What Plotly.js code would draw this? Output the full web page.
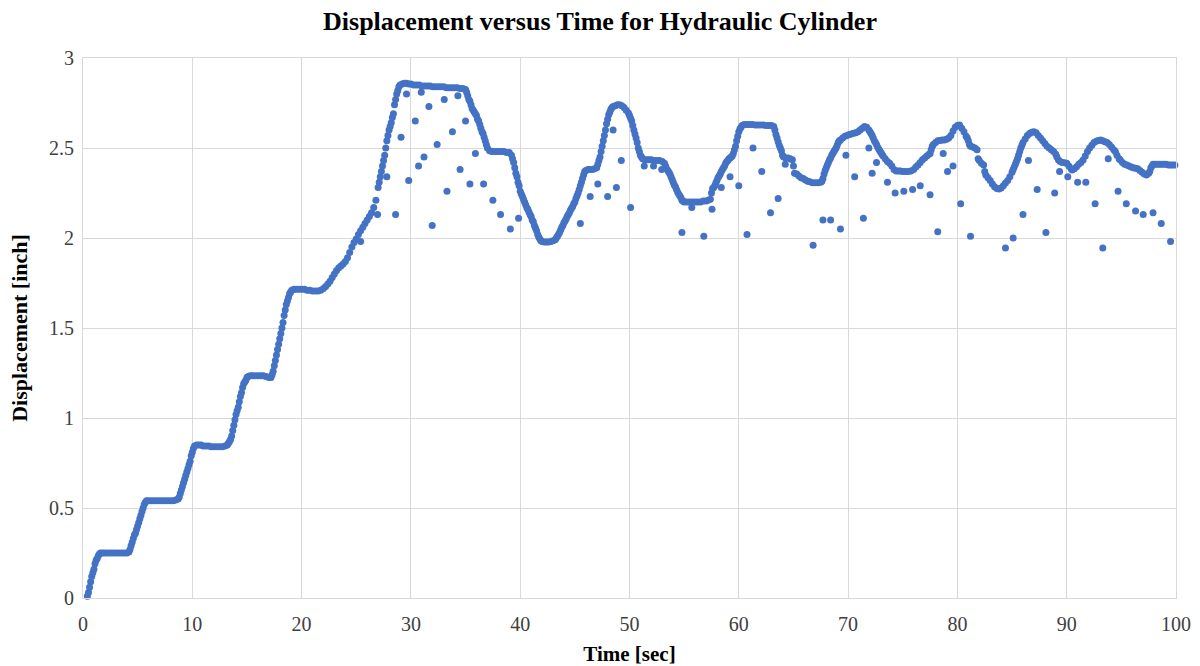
<!DOCTYPE html>
<html>
<head>
<meta charset="utf-8">
<script src="https://cdn.plot.ly/plotly-3.0.1.min.js"></script>
<style>html,body{margin:0;padding:0;background:#fff;}#chart{width:1200px;height:666px;}</style>
</head>
<body>
<div id="chart"></div>
<script>
// Main (dense) displacement trace
const mainTime = [
0.4,0.5,0.6,0.7,0.8,0.9,1.0,1.1,1.2,1.3,1.4,1.5,1.6,
1.8,2.0,2.25,2.5,2.75,3.0,3.25,3.5,3.75,4.0,4.2,
4.3,4.4,4.5,4.6,4.7,4.8,4.9,5.0,5.1,5.2,5.3,5.4,5.5,5.6,5.7,5.8,
6.0,6.25,6.5,6.75,7.0,7.25,7.5,7.75,8.0,8.25,8.5,8.7,
8.8,8.9,9.0,9.1,9.2,9.3,9.4,9.5,9.6,9.7,9.8,9.9,10.0,10.1,10.2,
10.4,10.6,10.8,11.0,11.25,11.5,11.75,12.0,12.25,12.5,12.75,13.0,13.2,
13.3,13.4,13.5,13.6,13.7,13.8,13.9,14.0,14.1,14.2,14.3,14.4,14.5,14.6,14.7,14.8,14.9,15.0,15.1,
15.3,15.5,15.75,16.0,16.25,16.5,16.75,17.0,17.2,
17.3,17.4,17.5,17.6,17.7,17.8,17.9,18.0,18.1,18.2,18.3,18.4,18.5,18.6,18.7,18.8,18.9,19.0,19.1,
19.3,19.5,19.75,20.0,20.25,20.5,20.75,21.0,21.25,21.5,21.75,22.0,
22.2,22.4,22.6,22.8,23.0,23.2,23.4,23.6,23.8,24.0,24.2,24.4,24.6,24.8,25.0,25.2,25.4,25.6,25.8,26.0,26.2,26.4,26.6,26.8,
27.0,27.1,27.2,27.3,27.4,27.5,27.6,27.7,27.8,27.9,28.0,28.1,28.2,28.3,28.4,28.5,28.6,28.7,28.8,28.9,29.0,29.2,
29.4,29.6,29.8,30.0,30.25,30.5,30.75,31.0,31.25,31.5,31.75,32.0,32.25,32.5,32.75,33.0,33.25,33.5,33.75,34.0,34.25,34.5,34.75,35.0,
35.1,35.2,35.3,35.4,35.5,35.6,35.7,35.8,35.9,36.0,36.1,36.2,36.3,36.4,36.5,36.6,36.7,36.8,36.9,37.0,37.2,
37.4,37.6,37.8,38.0,38.25,38.5,38.75,39.0,39.2,
39.3,39.4,39.5,39.6,39.7,39.8,39.9,40.0,40.1,40.2,40.3,40.4,40.5,40.6,40.7,40.8,40.9,41.0,41.1,41.2,41.3,41.4,41.5,41.6,41.7,41.8,41.9,
42.0,42.2,42.4,42.6,42.8,43.0,43.2,
43.3,43.4,43.5,43.6,43.7,43.8,43.9,44.0,44.1,44.2,44.3,44.4,44.5,44.6,44.7,44.8,44.9,45.0,45.1,45.2,45.3,45.4,45.5,45.6,45.7,45.8,45.9,46.0,
46.2,46.4,46.6,46.8,47.0,
47.1,47.2,47.3,47.4,47.5,47.6,47.7,47.8,47.9,48.0,48.1,48.2,48.3,48.4,48.5,48.7,48.9,49.1,49.3,49.5,49.7,49.9,50.0,50.1,50.2,50.3,50.4,50.5,50.6,50.7,50.8,50.9,51.0,51.1,51.2,
51.4,51.6,51.8,52.0,52.25,52.5,52.75,53.0,53.2,
53.3,53.4,53.5,53.6,53.7,53.8,53.9,54.0,54.1,54.2,54.3,54.4,54.5,54.6,54.7,54.8,54.9,
55.0,55.25,55.5,55.75,56.0,56.25,56.5,56.75,57.0,57.2,57.4,
57.5,57.6,57.7,57.8,57.9,58.0,58.1,58.2,58.3,58.4,58.5,58.6,58.7,58.8,58.9,59.0,59.1,59.2,59.3,59.4,59.5,59.6,59.7,59.8,59.9,60.0,60.1,60.2,60.3,
60.5,60.75,61.0,61.25,61.5,61.75,62.0,62.25,62.5,62.75,63.0,63.2,
63.3,63.4,63.5,63.6,63.7,63.8,63.9,64.0,64.1,
64.3,64.5,64.7,64.9,65.0,65.1,
65.3,65.5,65.7,65.9,66.1,66.3,66.5,
66.75,67.0,67.25,67.5,67.6,
67.7,67.8,67.9,68.0,68.1,68.2,68.3,68.4,68.5,68.6,68.7,68.8,68.9,69.0,69.1,69.2,69.3,69.5,69.7,69.9,70.1,70.3,70.5,70.7,70.9,71.1,71.3,71.5,71.7,71.9,72.0,72.1,72.2,72.3,72.4,72.5,72.6,72.7,72.8,72.9,73.0,73.1,73.2,73.4,73.6,73.8,74.0,74.2,
74.4,74.6,74.8,75.0,75.25,75.5,75.75,76.0,76.2,
76.4,76.6,76.8,77.0,77.2,77.4,77.5,77.6,77.7,77.8,78.0,78.2,78.4,78.6,78.8,79.0,79.2,79.4,79.6,79.8,80.0,80.2,80.4,80.6,80.8,80.9,81.0,81.1,81.2,81.4,81.6,81.8,81.9,82.0,82.2,82.4,82.5,82.6,82.8,83.0,83.2,83.4,83.6,83.8,84.0,84.2,84.4,84.6,84.8,85.0,85.1,85.2,85.3,85.4,85.5,85.6,85.7,85.8,85.9,86.0,86.2,86.4,86.6,86.8,87.0,87.2,87.4,87.6,87.8,88.0,88.2,88.4,88.6,88.8,89.0,89.1,89.25,89.4,89.6,89.8,90.0,90.2,90.4,90.5,90.7,90.9,91.1,91.3,91.5,91.7,91.9,92.1,92.3,92.5,92.7,92.9,93.1,93.3,93.5,93.7,93.9,94.1,94.3,94.45,94.6,94.8,94.9,95.1,95.3,95.5,95.7,95.9,96.1,96.3,96.5,96.7,96.9,97.1,97.3,97.5,97.6,97.7,97.8,97.9,98.1,98.3,98.5,98.7,98.9,99.1,99.3,99.5,99.7,99.9
];
const mainDisp = [
0.01,0.03,0.06,0.09,0.12,0.14,0.16,0.19,0.21,0.22,0.235,0.245,0.25,
0.25,0.25,0.25,0.25,0.25,0.25,0.25,0.25,0.25,0.25,0.255,
0.27,0.29,0.31,0.33,0.35,0.36,0.38,0.40,0.42,0.44,0.46,0.48,0.50,0.52,0.53,0.54,
0.54,0.54,0.54,0.54,0.54,0.54,0.54,0.54,0.54,0.54,0.545,0.55,
0.56,0.58,0.60,0.62,0.64,0.66,0.68,0.70,0.72,0.74,0.76,0.79,0.81,0.83,0.845,
0.85,0.85,0.85,0.845,0.845,0.845,0.84,0.84,0.84,0.84,0.84,0.845,0.85,
0.86,0.87,0.88,0.90,0.93,0.96,0.99,1.02,1.04,1.06,1.09,1.12,1.14,1.17,1.19,1.20,1.21,1.225,1.23,
1.235,1.235,1.235,1.235,1.235,1.235,1.23,1.225,1.225,
1.24,1.26,1.29,1.32,1.35,1.38,1.41,1.44,1.47,1.50,1.53,1.57,1.60,1.63,1.65,1.67,1.69,1.70,1.71,
1.715,1.715,1.715,1.715,1.715,1.71,1.71,1.705,1.705,1.705,1.71,1.72,
1.73,1.745,1.76,1.78,1.80,1.82,1.835,1.845,1.855,1.87,1.89,1.92,1.95,1.975,1.995,2.02,2.04,2.06,2.08,2.10,2.12,2.14,2.17,2.21,
2.28,2.31,2.34,2.37,2.40,2.43,2.46,2.50,2.54,2.57,2.60,2.62,2.64,2.67,2.69,2.74,2.77,2.80,2.82,2.84,2.85,2.855,
2.86,2.86,2.855,2.855,2.85,2.85,2.85,2.845,2.845,2.845,2.845,2.84,2.84,2.84,2.84,2.84,2.835,2.835,2.835,2.835,2.835,2.83,2.83,2.825,
2.81,2.79,2.77,2.76,2.74,2.72,2.71,2.70,2.69,2.68,2.66,2.65,2.63,2.61,2.59,2.58,2.56,2.54,2.52,2.50,2.485,
2.48,2.48,2.48,2.48,2.48,2.48,2.475,2.475,2.46,
2.44,2.42,2.39,2.36,2.34,2.31,2.29,2.26,2.245,2.23,2.215,2.20,2.185,2.17,2.16,2.145,2.13,2.12,2.10,2.09,2.07,2.055,2.04,2.02,2.005,1.995,1.985,
1.98,1.978,1.978,1.978,1.98,1.985,1.99,
2.00,2.01,2.02,2.03,2.045,2.06,2.07,2.085,2.095,2.105,2.12,2.13,2.14,2.155,2.165,2.175,2.19,2.20,2.22,2.235,2.25,2.27,2.29,2.31,2.33,2.35,2.37,2.375,
2.38,2.38,2.38,2.385,2.39,
2.41,2.43,2.45,2.48,2.51,2.54,2.57,2.60,2.635,2.66,2.685,2.70,2.715,2.725,2.73,2.735,2.74,2.74,2.735,2.725,2.71,2.695,2.68,2.665,2.65,2.625,2.60,2.578,2.555,2.53,2.50,2.48,2.46,2.45,2.44,
2.435,2.435,2.435,2.435,2.43,2.43,2.43,2.425,2.415,
2.40,2.385,2.375,2.365,2.355,2.34,2.325,2.31,2.295,2.285,2.27,2.255,2.245,2.235,2.225,2.21,2.205,
2.20,2.20,2.20,2.20,2.20,2.20,2.20,2.205,2.205,2.21,2.215,
2.25,2.275,2.28,2.29,2.305,2.32,2.335,2.345,2.355,2.37,2.38,2.39,2.40,2.415,2.425,2.43,2.44,2.445,2.45,2.455,2.47,2.49,2.51,2.54,2.565,2.59,2.605,2.615,2.625,
2.63,2.63,2.63,2.63,2.628,2.628,2.628,2.628,2.625,2.625,2.625,2.62,
2.60,2.575,2.555,2.535,2.515,2.50,2.485,2.46,2.45,
2.445,2.445,2.44,2.435,2.40,2.36,
2.355,2.345,2.335,2.33,2.322,2.315,2.312,
2.307,2.307,2.307,2.31,2.315,
2.33,2.355,2.375,2.39,2.405,2.42,2.435,2.445,2.46,2.47,2.48,2.49,2.50,2.515,2.53,2.54,2.545,2.555,2.565,2.57,2.575,2.578,2.582,2.585,2.59,2.60,2.61,2.62,2.615,2.60,2.59,2.58,2.57,2.555,2.54,2.53,2.52,2.505,2.495,2.485,2.475,2.465,2.455,2.44,2.425,2.415,2.40,2.38,
2.372,2.372,2.372,2.37,2.37,2.37,2.372,2.38,2.395,
2.405,2.42,2.435,2.445,2.455,2.465,2.47,2.49,2.51,2.52,2.53,2.54,2.542,2.544,2.545,2.548,2.555,2.57,2.595,2.615,2.625,2.628,2.61,2.59,2.565,2.555,2.54,2.52,2.51,2.505,2.50,2.49,2.44,2.43,2.415,2.405,2.37,2.35,2.335,2.32,2.30,2.285,2.275,2.272,2.278,2.29,2.305,2.32,2.34,2.365,2.38,2.395,2.41,2.425,2.44,2.46,2.48,2.50,2.515,2.53,2.55,2.57,2.58,2.588,2.59,2.585,2.57,2.555,2.54,2.525,2.51,2.50,2.49,2.48,2.465,2.45,2.433,2.425,2.42,2.418,2.415,2.40,2.385,2.378,2.385,2.396,2.41,2.42,2.433,2.455,2.48,2.50,2.515,2.53,2.538,2.542,2.544,2.54,2.535,2.53,2.52,2.505,2.49,2.48,2.46,2.44,2.433,2.42,2.41,2.405,2.40,2.395,2.39,2.388,2.385,2.375,2.365,2.355,2.35,2.36,2.37,2.39,2.40,2.41,2.41,2.41,2.41,2.41,2.41,2.41,2.405,2.405,2.405,2.405
];
// Scattered samples below the main trace
const strayTime = [25.4,26.95,27.8,28.6,29.1,29.6,29.8,30.4,30.7,30.95,31.2,31.65,31.95,32.4,33.05,33.3,33.8,34.3,34.5,35.0,35.4,35.9,36.65,37.5,38.2,39.1,39.85,
45.5,46.4,47.1,48.0,48.5,48.8,49.25,50.1,51.35,52.2,52.95,54.8,55.7,56.8,57.55,58.4,59.2,60.0,60.75,61.3,62.1,62.9,63.6,64.25,
66.8,67.7,68.4,69.3,69.8,70.6,71.4,71.9,72.2,72.6,73.6,74.3,75.1,75.9,76.6,77.5,78.2,78.7,79.1,79.6,80.3,81.2,
84.4,85.1,86.0,86.5,87.3,88.1,88.9,89.35,90.1,91.0,91.75,92.6,93.3,93.8,94.7,95.45,96.3,97.0,97.9,98.65,99.5];
const strayDisp = [1.98,2.13,2.34,2.13,2.56,2.80,2.32,2.65,2.40,2.81,2.45,2.73,2.07,2.52,2.77,2.26,2.59,2.79,2.38,2.65,2.30,2.47,2.30,2.21,2.13,2.05,2.11,
2.08,2.23,2.30,2.23,2.60,2.28,2.43,2.17,2.40,2.40,2.38,2.03,2.17,2.01,2.16,2.28,2.34,2.29,2.02,2.50,2.37,2.14,2.22,2.41,
1.96,2.10,2.10,2.05,2.46,2.34,2.11,2.50,2.36,2.42,2.31,2.25,2.26,2.27,2.29,2.24,2.035,2.47,2.37,2.40,2.19,2.01,
1.945,2.00,2.13,2.43,2.27,2.03,2.25,2.37,2.34,2.31,2.31,2.19,1.945,2.44,2.26,2.19,2.15,2.13,2.14,2.08,1.98];

const xTicks = [0,10,20,30,40,50,60,70,80,90,100];
const yTicks = [0,0.5,1,1.5,2,2.5,3];
const yTickText = ['0','0.5','1','1.5','2','2.5','3'];

const trace = {
  type: 'scatter',
  mode: 'markers',
  x: mainTime.concat(strayTime),
  y: mainDisp.concat(strayDisp),
  marker: {color: '#4472C4', size: 7, line: {width: 0}},
  hoverinfo: 'x+y',
  showlegend: false,
  cliponaxis: false
};

const serif = 'Liberation Serif, Times New Roman, serif';
const layout = {
  width: 1200, height: 666,
  paper_bgcolor: '#fff', plot_bgcolor: '#fff',
  margin: {l: 83, r: 24, t: 58, b: 68},
  title: {text: '<b>Displacement versus Time for Hydraulic Cylinder</b>',
          font: {family: serif, size: 26, color: '#000'}, x: 0.5, xanchor: 'center', y: 0.968, yanchor: 'middle'},
  xaxis: {range: [0, 100], tickvals: xTicks, ticktext: xTicks.map(String),
          showgrid: true, gridcolor: '#d9d9d9', gridwidth: 1, zeroline: false,
          showline: true, linecolor: '#d9d9d9', mirror: true, ticks: '',
          ticklabelstandoff: 8,
          tickfont: {family: serif, size: 20, color: '#404040'},
          title: {text: '<b>Time [sec]</b>', font: {family: serif, size: 21, color: '#000'}, standoff: 13}},
  yaxis: {range: [0, 3], tickvals: yTicks, ticktext: yTickText,
          showgrid: true, gridcolor: '#d9d9d9', gridwidth: 1, zeroline: false,
          showline: true, linecolor: '#d9d9d9', mirror: true, ticks: '',
          ticklabelstandoff: 4,
          tickfont: {family: serif, size: 20, color: '#404040'},
          title: {text: '<b>Displacement [inch]</b>', font: {family: serif, size: 22, color: '#000'}, standoff: 15}}
};

Plotly.newPlot('chart', [trace], layout, {displayModeBar: false, staticPlot: true});
</script>
</body>
</html>
